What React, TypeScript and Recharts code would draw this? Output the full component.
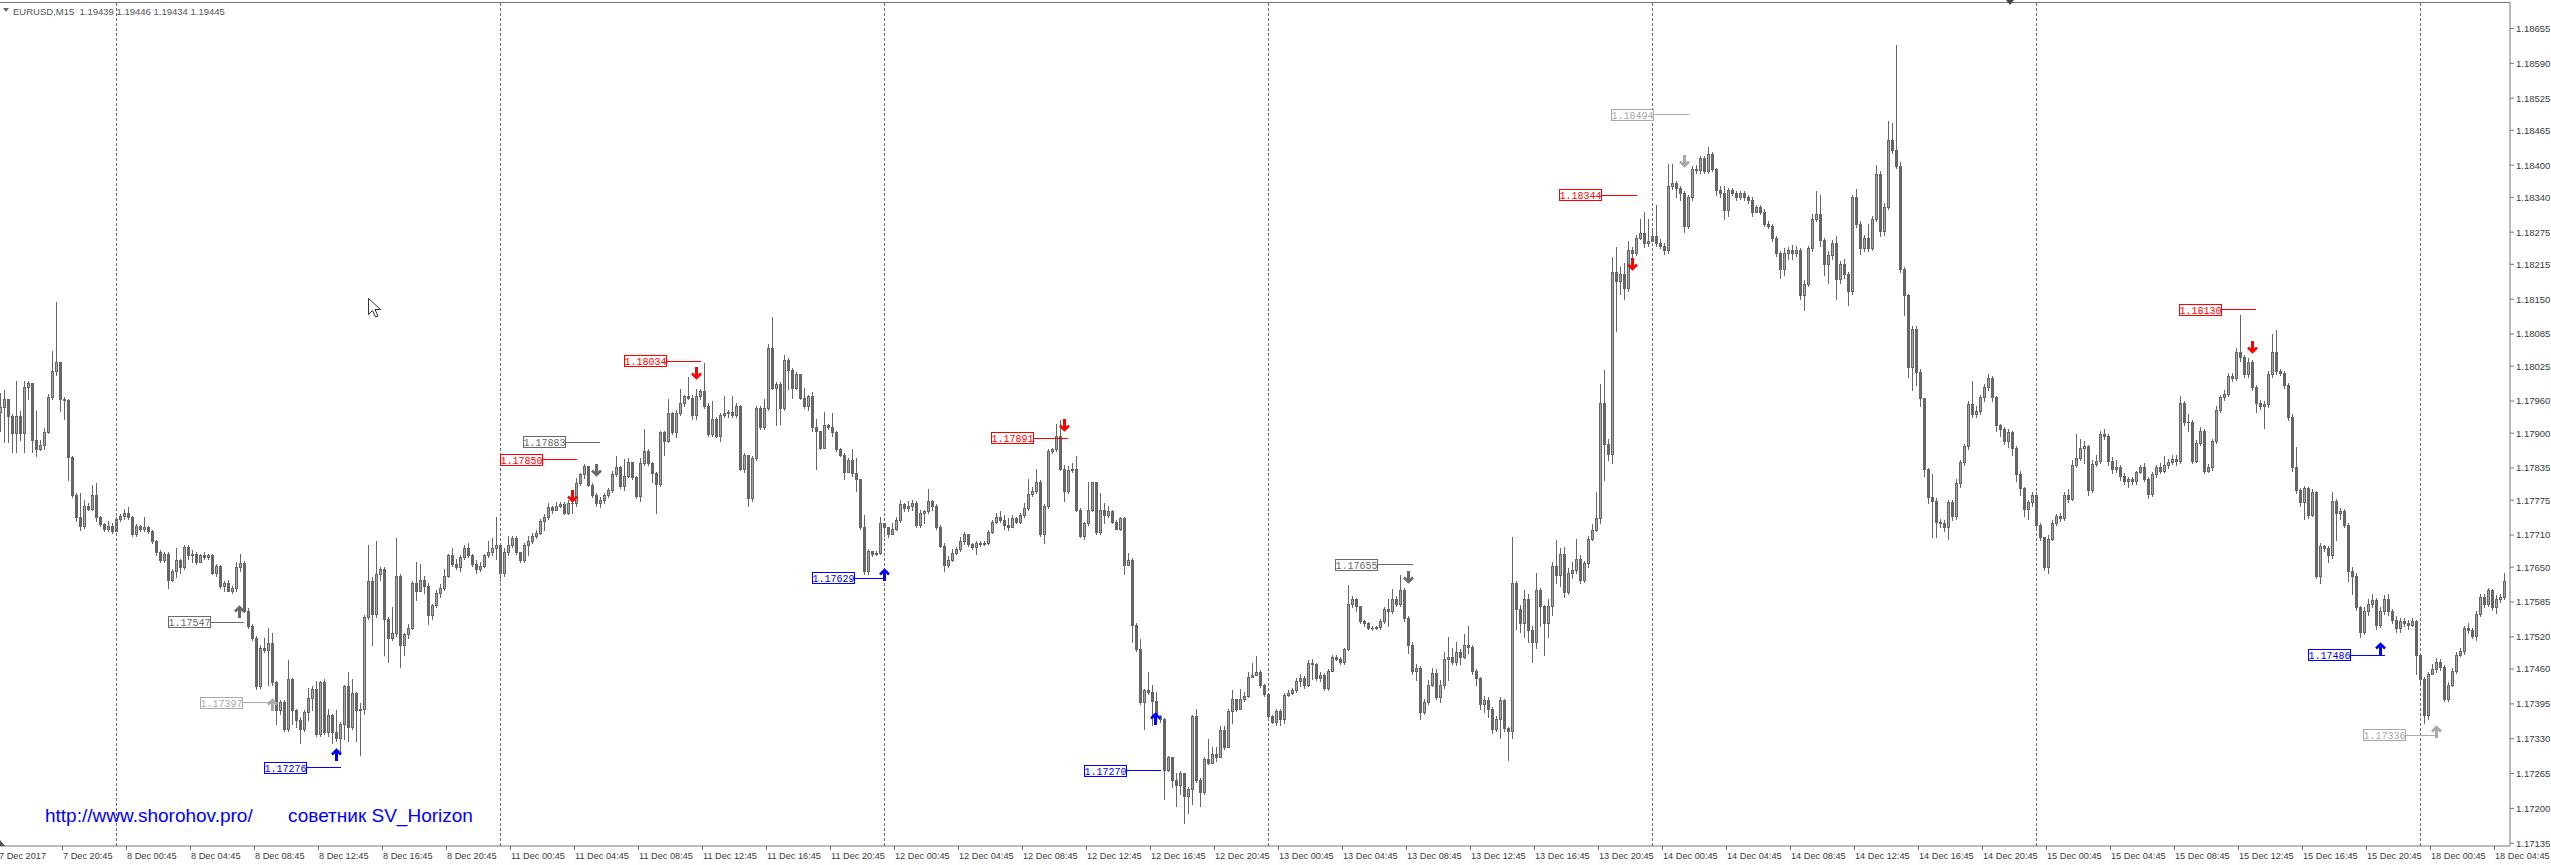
import React from "react";
import { ComposedChart, Bar, XAxis, YAxis, ReferenceLine, ReferenceDot } from "recharts";

// EURUSD M15, 7 Dec 2017 16:45 .. 18 Dec 2017 05:15.
// Open of each bar = close of the bar before it.
const FIRST_OPEN = 1.1794;

const D07_C = [1.17948,1.17964,1.17932,1.17900,1.17932,1.17900,1.17987,1.17993,1.17887,1.17871,1.17878,1.17903,1.17968,1.18016,1.18032,1.17964,1.17961,1.17855,1.17785,1.17743,1.17727,1.17765,1.17759,1.17785,1.17743,1.17730,1.17722,1.17727,1.17717];
const D07_H = [1.17975,1.17981,1.17961,1.17936,1.17997,1.17942,1.17997,1.17997,1.17993,1.17942,1.17887,1.17910,1.17974,1.18054,1.18144,1.18025,1.17968,1.17964,1.17858,1.17788,1.17788,1.17775,1.17769,1.17804,1.17807,1.17746,1.17733,1.17736,1.17733];
const D07_L = [1.17905,1.17884,1.17884,1.17865,1.17865,1.17887,1.17865,1.17964,1.17865,1.17858,1.17868,1.17871,1.17900,1.17964,1.18009,1.17942,1.17926,1.17813,1.17781,1.17736,1.17720,1.17724,1.17756,1.17757,1.17736,1.17727,1.17718,1.17717,1.17714];

const D08_C = [1.17740,1.17746,1.17752,1.17743,1.17711,1.17727,1.17722,1.17725,1.17718,1.17698,1.17679,1.17663,1.17675,1.17627,1.17643,1.17663,1.17650,1.17688,1.17672,1.17675,1.17659,1.17672,1.17669,1.17672,1.17640,1.17653,1.17614,1.17621,1.17606,1.17611,1.17650,1.17658,1.17569,1.17541,1.17518,1.17428,1.17499,1.17496,1.17509,1.17435,1.17383,1.17399,1.17348,1.17441,1.17383,1.17364,1.17348,1.17380,1.17406,1.17422,1.17338,1.17435,1.17342,1.17374,1.17342,1.17332,1.17358,1.17428,1.17351,1.17415,1.17383,1.17386,1.17557,1.17624,1.17563,1.17637,1.17647,1.17553,1.17518,1.17528,1.17634,1.17505,1.17525,1.17537,1.17621,1.17606,1.17627,1.17614,1.17560,1.17579,1.17602,1.17611,1.17634,1.17672,1.17656,1.17650,1.17669,1.17685,1.17672,1.17656,1.17647,1.17653,1.17672,1.17679,1.17685,1.17692];
const D08_H = [1.17743,1.17749,1.17759,1.17762,1.17746,1.17730,1.17729,1.17743,1.17727,1.17720,1.17701,1.17682,1.17679,1.17679,1.17647,1.17685,1.17666,1.17692,1.17692,1.17682,1.17679,1.17675,1.17679,1.17675,1.17674,1.17656,1.17654,1.17624,1.17627,1.17614,1.17659,1.17675,1.17661,1.17573,1.17544,1.17521,1.17505,1.17518,1.17537,1.17528,1.17438,1.17403,1.17403,1.17476,1.17444,1.17386,1.17370,1.17383,1.17425,1.17428,1.17438,1.17438,1.17441,1.17386,1.17377,1.17383,1.17361,1.17431,1.17454,1.17441,1.17418,1.17396,1.17560,1.17692,1.17631,1.17698,1.17650,1.17650,1.17557,1.17576,1.17704,1.17637,1.17528,1.17544,1.17624,1.17659,1.17656,1.17634,1.17621,1.17582,1.17608,1.17618,1.17647,1.17675,1.17685,1.17666,1.17672,1.17692,1.17695,1.17675,1.17663,1.17659,1.17675,1.17698,1.17704,1.17743];
const D08_L = [1.17720,1.17736,1.17740,1.17740,1.17708,1.17708,1.17718,1.17718,1.17714,1.17695,1.17672,1.17659,1.17659,1.17611,1.17624,1.17631,1.17640,1.17647,1.17666,1.17659,1.17656,1.17663,1.17666,1.17665,1.17637,1.17634,1.17611,1.17606,1.17605,1.17602,1.17605,1.17643,1.17566,1.17537,1.17515,1.17422,1.17425,1.17492,1.17431,1.17431,1.17358,1.17377,1.17345,1.17345,1.17358,1.17351,1.17322,1.17345,1.17364,1.17383,1.17335,1.17335,1.17338,1.17335,1.17322,1.17325,1.17306,1.17329,1.17325,1.17348,1.17325,1.17300,1.17377,1.17553,1.17505,1.17557,1.17627,1.17486,1.17473,1.17515,1.17521,1.17464,1.17486,1.17518,1.17534,1.17589,1.17605,1.17602,1.17544,1.17553,1.17576,1.17595,1.17608,1.17631,1.17653,1.17647,1.17643,1.17666,1.17669,1.17653,1.17640,1.17643,1.17650,1.17669,1.17672,1.17666];

const D11_C = [1.17640,1.17679,1.17692,1.17704,1.17679,1.17663,1.17692,1.17698,1.17708,1.17714,1.17736,1.17743,1.17762,1.17757,1.17765,1.17767,1.17752,1.17769,1.17769,1.17807,1.17823,1.17839,1.17804,1.17785,1.17769,1.17775,1.17785,1.17794,1.17823,1.17836,1.17801,1.17820,1.17847,1.17818,1.17783,1.17844,1.17866,1.17844,1.17825,1.17805,1.17902,1.17886,1.17937,1.17902,1.17937,1.17956,1.17969,1.17966,1.17934,1.17969,1.17979,1.17950,1.17899,1.17927,1.17895,1.17934,1.17937,1.17940,1.17934,1.17950,1.17834,1.17860,1.17780,1.17854,1.17947,1.17911,1.17947,1.18059,1.17985,1.17992,1.17947,1.18037,1.18017,1.17985,1.18011,1.17966,1.17950,1.17969,1.17911,1.17905,1.17873,1.17915,1.17911,1.17902,1.17870,1.17860,1.17828,1.17850,1.17825,1.17815,1.17725,1.17642,1.17680,1.17674,1.17677,1.17732];
const D11_H = [1.17692,1.17685,1.17708,1.17708,1.17708,1.17679,1.17695,1.17708,1.17714,1.17720,1.17740,1.17749,1.17769,1.17765,1.17772,1.17772,1.17772,1.17775,1.17772,1.17817,1.17826,1.17842,1.17836,1.17807,1.17788,1.17781,1.17788,1.17797,1.17830,1.17858,1.17839,1.17852,1.17854,1.17841,1.17821,1.17854,1.17908,1.17870,1.17847,1.17828,1.17905,1.17905,1.17963,1.17940,1.17944,1.17982,1.17972,1.18005,1.17972,1.17982,1.17982,1.18030,1.17956,1.17960,1.17931,1.17937,1.17969,1.17944,1.17969,1.17956,1.17953,1.17863,1.17860,1.17857,1.17950,1.17950,1.17963,1.18066,1.18117,1.17995,1.17995,1.18046,1.18040,1.18021,1.18014,1.18011,1.17985,1.17972,1.17976,1.17927,1.17902,1.17940,1.17918,1.17937,1.17905,1.17873,1.17863,1.17854,1.17870,1.17854,1.17815,1.17748,1.17683,1.17680,1.17680,1.17744];
const D11_L = [1.17624,1.17634,1.17672,1.17688,1.17675,1.17659,1.17659,1.17672,1.17695,1.17704,1.17711,1.17720,1.17740,1.17752,1.17757,1.17762,1.17749,1.17749,1.17751,1.17765,1.17804,1.17817,1.17801,1.17781,1.17765,1.17762,1.17769,1.17781,1.17791,1.17820,1.17797,1.17794,1.17818,1.17815,1.17780,1.17773,1.17841,1.17841,1.17809,1.17751,1.17802,1.17860,1.17883,1.17899,1.17892,1.17934,1.17950,1.17963,1.17927,1.17927,1.17963,1.17947,1.17895,1.17895,1.17892,1.17886,1.17931,1.17931,1.17931,1.17931,1.17831,1.17828,1.17764,1.17773,1.17850,1.17908,1.17908,1.17944,1.17982,1.17915,1.17918,1.17944,1.17982,1.17966,1.17982,1.17963,1.17947,1.17944,1.17905,1.17834,1.17870,1.17895,1.17908,1.17895,1.17866,1.17857,1.17815,1.17844,1.17821,1.17793,1.17722,1.17638,1.17638,1.17671,1.17672,1.17674];

const D12_C = [1.17725,1.17712,1.17722,1.17738,1.17767,1.17760,1.17764,1.17770,1.17728,1.17751,1.17754,1.17773,1.17764,1.17725,1.17690,1.17654,1.17664,1.17677,1.17683,1.17699,1.17712,1.17693,1.17687,1.17696,1.17693,1.17696,1.17715,1.17735,1.17744,1.17738,1.17728,1.17725,1.17741,1.17735,1.17748,1.17760,1.17786,1.17793,1.17809,1.17712,1.17764,1.17866,1.17870,1.17895,1.17834,1.17793,1.17831,1.17834,1.17757,1.17709,1.17732,1.17757,1.17809,1.17715,1.17757,1.17748,1.17754,1.17735,1.17722,1.17741,1.17654,1.17664,1.17542,1.17497,1.17398,1.17420,1.17417,1.17401,1.17372,1.17366,1.17272,1.17295,1.17253,1.17244,1.17266,1.17224,1.17237,1.17372,1.17253,1.17231,1.17292,1.17285,1.17301,1.17295,1.17346,1.17314,1.17382,1.17404,1.17385,1.17404,1.17410,1.17446,1.17449,1.17455,1.17430,1.17414];
const D12_H = [1.17732,1.17725,1.17732,1.17744,1.17776,1.17770,1.17773,1.17776,1.17773,1.17757,1.17757,1.17796,1.17776,1.17767,1.17728,1.17696,1.17671,1.17683,1.17687,1.17706,1.17715,1.17712,1.17696,1.17699,1.17699,1.17699,1.17719,1.17738,1.17751,1.17754,1.17748,1.17741,1.17748,1.17744,1.17751,1.17770,1.17815,1.17799,1.17834,1.17812,1.17767,1.17870,1.17873,1.17918,1.17924,1.17841,1.17838,1.17844,1.17857,1.17760,1.17735,1.17809,1.17809,1.17809,1.17789,1.17770,1.17764,1.17757,1.17738,1.17744,1.17744,1.17677,1.17667,1.17545,1.17516,1.17423,1.17455,1.17430,1.17417,1.17375,1.17369,1.17298,1.17279,1.17266,1.17269,1.17263,1.17240,1.17375,1.17385,1.17256,1.17295,1.17330,1.17314,1.17314,1.17353,1.17353,1.17385,1.17420,1.17404,1.17423,1.17417,1.17455,1.17471,1.17484,1.17459,1.17433];
const D12_L = [1.17709,1.17706,1.17712,1.17719,1.17735,1.17754,1.17754,1.17757,1.17725,1.17725,1.17732,1.17751,1.17757,1.17722,1.17687,1.17642,1.17651,1.17661,1.17674,1.17680,1.17693,1.17690,1.17683,1.17674,1.17690,1.17692,1.17694,1.17714,1.17733,1.17735,1.17722,1.17719,1.17725,1.17732,1.17732,1.17744,1.17757,1.17783,1.17789,1.17709,1.17696,1.17760,1.17863,1.17866,1.17831,1.17773,1.17789,1.17828,1.17754,1.17706,1.17703,1.17728,1.17754,1.17712,1.17712,1.17732,1.17744,1.17732,1.17732,1.17720,1.17638,1.17658,1.17510,1.17494,1.17395,1.17349,1.17414,1.17356,1.17369,1.17362,1.17218,1.17269,1.17240,1.17205,1.17227,1.17173,1.17192,1.17208,1.17250,1.17205,1.17227,1.17282,1.17285,1.17288,1.17295,1.17311,1.17314,1.17359,1.17382,1.17401,1.17401,1.17407,1.17446,1.17449,1.17427,1.17410];

const D13_C = [1.17372,1.17362,1.17382,1.17367,1.17412,1.17416,1.17421,1.17438,1.17443,1.17430,1.17472,1.17470,1.17443,1.17449,1.17425,1.17456,1.17483,1.17479,1.17474,1.17497,1.17581,1.17590,1.17577,1.17550,1.17546,1.17537,1.17537,1.17538,1.17550,1.17572,1.17568,1.17590,1.17581,1.17608,1.17555,1.17505,1.17456,1.17461,1.17380,1.17398,1.17430,1.17452,1.17407,1.17430,1.17479,1.17483,1.17474,1.17492,1.17483,1.17505,1.17501,1.17456,1.17443,1.17394,1.17403,1.17385,1.17349,1.17367,1.17403,1.17350,1.17345,1.17621,1.17572,1.17546,1.17590,1.17532,1.17510,1.17608,1.17577,1.17546,1.17577,1.17653,1.17635,1.17675,1.17604,1.17639,1.17644,1.17666,1.17626,1.17657,1.17702,1.17720,1.17742,1.17956,1.17880,1.17862,1.18201,1.18184,1.18197,1.18170,1.18242,1.18237,1.18264,1.18273,1.18255,1.18259];
const D13_H = [1.17410,1.17375,1.17385,1.17385,1.17416,1.17420,1.17425,1.17443,1.17450,1.17447,1.17476,1.17478,1.17472,1.17455,1.17452,1.17460,1.17487,1.17487,1.17482,1.17500,1.17617,1.17596,1.17592,1.17578,1.17552,1.17548,1.17541,1.17541,1.17553,1.17575,1.17590,1.17610,1.17596,1.17635,1.17612,1.17558,1.17510,1.17470,1.17465,1.17405,1.17440,1.17462,1.17460,1.17440,1.17492,1.17520,1.17500,1.17510,1.17498,1.17526,1.17541,1.17505,1.17460,1.17446,1.17410,1.17408,1.17390,1.17372,1.17408,1.17405,1.17352,1.17706,1.17625,1.17580,1.17607,1.17600,1.17540,1.17640,1.17612,1.17580,1.17590,1.17660,1.17700,1.17685,1.17688,1.17648,1.17660,1.17702,1.17672,1.17662,1.17708,1.17730,1.17790,1.17992,1.18018,1.17890,1.18228,1.18248,1.18210,1.18218,1.18259,1.18248,1.18270,1.18300,1.18313,1.18300];
const D13_L = [1.17369,1.17359,1.17355,1.17355,1.17360,1.17410,1.17414,1.17418,1.17428,1.17425,1.17428,1.17441,1.17440,1.17437,1.17420,1.17421,1.17456,1.17476,1.17470,1.17470,1.17495,1.17575,1.17568,1.17546,1.17540,1.17534,1.17533,1.17534,1.17535,1.17546,1.17541,1.17565,1.17578,1.17578,1.17550,1.17490,1.17450,1.17440,1.17366,1.17376,1.17394,1.17428,1.17404,1.17398,1.17425,1.17440,1.17470,1.17468,1.17470,1.17480,1.17490,1.17450,1.17430,1.17385,1.17380,1.17370,1.17340,1.17345,1.17331,1.17345,1.17291,1.17332,1.17535,1.17530,1.17520,1.17510,1.17474,1.17500,1.17540,1.17487,1.17520,1.17560,1.17620,1.17615,1.17595,1.17600,1.17630,1.17640,1.17620,1.17622,1.17650,1.17700,1.17718,1.17733,1.17813,1.17850,1.17845,1.18090,1.18160,1.18150,1.18165,1.18225,1.18232,1.18262,1.18248,1.18250];

const D14_C = [1.18268,1.18255,1.18250,1.18242,1.18362,1.18366,1.18358,1.18349,1.18286,1.18340,1.18393,1.18391,1.18413,1.18389,1.18420,1.18393,1.18353,1.18349,1.18317,1.18353,1.18349,1.18340,1.18349,1.18340,1.18335,1.18313,1.18322,1.18313,1.18291,1.18286,1.18264,1.18237,1.18206,1.18237,1.18242,1.18237,1.18242,1.18157,1.18179,1.18246,1.18300,1.18308,1.18260,1.18215,1.18233,1.18255,1.18188,1.18215,1.18197,1.18166,1.18340,1.18291,1.18246,1.18264,1.18246,1.18300,1.18384,1.18277,1.18322,1.18447,1.18429,1.18398,1.18206,1.18157,1.18023,1.18094,1.18014,1.17965,1.17833,1.17781,1.17774,1.17735,1.17732,1.17725,1.17771,1.17745,1.17807,1.17846,1.17876,1.17954,1.17935,1.17941,1.17967,1.17987,1.18003,1.17967,1.17915,1.17908,1.17886,1.17902,1.17872,1.17823,1.17797,1.17758,1.17771,1.17784];
const D14_H = [1.18280,1.18326,1.18262,1.18255,1.18402,1.18402,1.18370,1.18362,1.18352,1.18345,1.18398,1.18400,1.18418,1.18418,1.18433,1.18425,1.18395,1.18362,1.18362,1.18358,1.18358,1.18352,1.18352,1.18352,1.18345,1.18340,1.18326,1.18325,1.18318,1.18295,1.18290,1.18268,1.18240,1.18245,1.18248,1.18252,1.18250,1.18245,1.18185,1.18250,1.18308,1.18352,1.18345,1.18265,1.18240,1.18260,1.18268,1.18222,1.18225,1.18200,1.18345,1.18355,1.18296,1.18270,1.18290,1.18305,1.18400,1.18390,1.18330,1.18482,1.18478,1.18625,1.18405,1.18210,1.18160,1.18100,1.18100,1.18020,1.17965,1.17835,1.17823,1.17780,1.17740,1.17738,1.17775,1.17775,1.17815,1.17850,1.17880,1.17960,1.17997,1.17950,1.17972,1.17992,1.18010,1.18006,1.17970,1.17918,1.17912,1.17908,1.17905,1.17876,1.17830,1.17800,1.17775,1.17790];
const D14_L = [1.18259,1.18250,1.18245,1.18235,1.18237,1.18355,1.18340,1.18335,1.18275,1.18283,1.18335,1.18385,1.18386,1.18385,1.18385,1.18390,1.18345,1.18340,1.18300,1.18305,1.18345,1.18335,1.18336,1.18335,1.18330,1.18305,1.18312,1.18308,1.18286,1.18282,1.18258,1.18230,1.18190,1.18195,1.18225,1.18225,1.18230,1.18150,1.18130,1.18175,1.18240,1.18295,1.18250,1.18195,1.18180,1.18225,1.18150,1.18180,1.18190,1.18140,1.18160,1.18285,1.18235,1.18240,1.18240,1.18242,1.18295,1.18268,1.18270,1.18318,1.18422,1.18395,1.18200,1.18120,1.18005,1.17980,1.17990,1.17950,1.17820,1.17770,1.17706,1.17706,1.17725,1.17718,1.17702,1.17738,1.17740,1.17800,1.17840,1.17870,1.17930,1.17930,1.17935,1.17960,1.17980,1.17960,1.17905,1.17895,1.17880,1.17875,1.17860,1.17810,1.17785,1.17745,1.17740,1.17765];

const D15_C = [1.17729,1.17706,1.17650,1.17702,1.17732,1.17745,1.17742,1.17784,1.17778,1.17840,1.17853,1.17872,1.17876,1.17794,1.17843,1.17849,1.17899,1.17895,1.17849,1.17833,1.17836,1.17820,1.17810,1.17814,1.17810,1.17827,1.17836,1.17814,1.17787,1.17823,1.17836,1.17830,1.17840,1.17846,1.17852,1.17849,1.17957,1.17921,1.17921,1.17849,1.17882,1.17905,1.17830,1.17836,1.17886,1.17944,1.17967,1.17974,1.18007,1.18003,1.18052,1.18042,1.18010,1.18033,1.17987,1.17957,1.17951,1.17954,1.18010,1.18052,1.18016,1.18013,1.17990,1.17931,1.17836,1.17794,1.17771,1.17797,1.17748,1.17791,1.17634,1.17689,1.17686,1.17673,1.17774,1.17751,1.17755,1.17729,1.17643,1.17634,1.17575,1.17529,1.17568,1.17581,1.17588,1.17542,1.17568,1.17591,1.17568,1.17552,1.17536,1.17549,1.17546,1.17542,1.17549,1.17487];
const D15_H = [1.17791,1.17732,1.17706,1.17710,1.17738,1.17750,1.17752,1.17790,1.17795,1.17850,1.17899,1.17890,1.17885,1.17878,1.17850,1.17860,1.17905,1.17908,1.17898,1.17855,1.17850,1.17840,1.17825,1.17818,1.17818,1.17830,1.17840,1.17845,1.17818,1.17828,1.17840,1.17845,1.17858,1.17852,1.17860,1.17860,1.17970,1.17960,1.17935,1.17925,1.17888,1.17912,1.17908,1.17842,1.17890,1.17950,1.17972,1.17980,1.18012,1.18012,1.18058,1.18121,1.18046,1.18040,1.18036,1.17990,1.17962,1.17960,1.18016,1.18085,1.18092,1.18020,1.18016,1.17993,1.17935,1.17875,1.17797,1.17802,1.17800,1.17795,1.17793,1.17695,1.17692,1.17690,1.17790,1.17778,1.17760,1.17758,1.17732,1.17650,1.17640,1.17578,1.17575,1.17590,1.17600,1.17592,1.17575,1.17598,1.17600,1.17572,1.17558,1.17555,1.17555,1.17552,1.17555,1.17552];
const D15_L = [1.17719,1.17700,1.17645,1.17640,1.17700,1.17728,1.17736,1.17738,1.17772,1.17775,1.17836,1.17850,1.17845,1.17785,1.17790,1.17838,1.17845,1.17890,1.17840,1.17825,1.17828,1.17812,1.17805,1.17800,1.17805,1.17805,1.17825,1.17810,1.17780,1.17782,1.17818,1.17825,1.17827,1.17835,1.17842,1.17840,1.17845,1.17915,1.17905,1.17845,1.17846,1.17878,1.17825,1.17828,1.17832,1.17882,1.17940,1.17962,1.17970,1.17998,1.18000,1.18035,1.18005,1.18005,1.17980,1.17940,1.17945,1.17910,1.17948,1.18005,1.18010,1.18008,1.17985,1.17925,1.17830,1.17788,1.17765,1.17740,1.17742,1.17745,1.17630,1.17620,1.17680,1.17660,1.17668,1.17700,1.17740,1.17725,1.17625,1.17600,1.17570,1.17520,1.17525,1.17560,1.17575,1.17535,1.17538,1.17562,1.17560,1.17545,1.17530,1.17530,1.17540,1.17535,1.17540,1.17450];

const D18_C = [1.17441,1.17375,1.17450,1.17460,1.17473,1.17464,1.17405,1.17431,1.17457,1.17487,1.17493,1.17536,1.17532,1.17522,1.17562,1.17594,1.17581,1.17608,1.17575,1.17591,1.17594,1.17624];
const D18_H = [1.17490,1.17445,1.17455,1.17470,1.17480,1.17478,1.17468,1.17435,1.17462,1.17492,1.17500,1.17540,1.17545,1.17536,1.17568,1.17600,1.17600,1.17612,1.17610,1.17598,1.17600,1.17640];
const D18_L = [1.17430,1.17360,1.17366,1.17450,1.17455,1.17458,1.17400,1.17400,1.17428,1.17452,1.17485,1.17488,1.17528,1.17518,1.17515,1.17558,1.17575,1.17578,1.17570,1.17565,1.17585,1.17590];

// bar index of the first bar of each new day (period separators)
const DAY_STARTS = [29, 125, 221, 317, 413, 509, 605];

// time axis: one label every 16 bars (4 hours)
const TIME_LABELS = [
  "7 Dec 2017", "7 Dec 20:45",
  "8 Dec 00:45", "8 Dec 04:45", "8 Dec 08:45", "8 Dec 12:45", "8 Dec 16:45", "8 Dec 20:45",
  "11 Dec 00:45", "11 Dec 04:45", "11 Dec 08:45", "11 Dec 12:45", "11 Dec 16:45", "11 Dec 20:45",
  "12 Dec 00:45", "12 Dec 04:45", "12 Dec 08:45", "12 Dec 12:45", "12 Dec 16:45", "12 Dec 20:45",
  "13 Dec 00:45", "13 Dec 04:45", "13 Dec 08:45", "13 Dec 12:45", "13 Dec 16:45", "13 Dec 20:45",
  "14 Dec 00:45", "14 Dec 04:45", "14 Dec 08:45", "14 Dec 12:45", "14 Dec 16:45", "14 Dec 20:45",
  "15 Dec 00:45", "15 Dec 04:45", "15 Dec 08:45", "15 Dec 12:45", "15 Dec 16:45", "15 Dec 20:45",
  "18 Dec 00:45", "18 Dec 04:45",
];

const PRICE_TICKS = [1.18655, 1.1859, 1.18525, 1.18465, 1.184, 1.1834, 1.18275, 1.18215, 1.1815, 1.18085, 1.18025, 1.1796, 1.179, 1.17835, 1.17775, 1.1771, 1.1765, 1.17585, 1.1752, 1.1746, 1.17395, 1.1733, 1.17265, 1.172, 1.17135];

// SV_Horizon levels: price, bar where the box ends / line starts, bar where the line ends
const LEVEL_PRICE = [1.17547, 1.17397, 1.17276, 1.1785, 1.17883, 1.18034, 1.17629, 1.17891, 1.1727, 1.17655, 1.18344, 1.18494, 1.1813, 1.17486, 1.17336];
const LEVEL_FROM = [52.75, 60.75, 76.75, 135.75, 141.6, 166.65, 213.75, 258.6, 281.65, 344.6, 400.5, 413.4, 555.45, 587.65, 601.5];
const LEVEL_TO = [61, 67.5, 85.2, 144.25, 150, 175.25, 220.75, 267.1, 290.25, 353.15, 409.25, 422.25, 564.1, 596.2, 609.1];
const LEVEL_KIND = ["gray", "light", "blue", "red", "gray", "red", "blue", "red", "blue", "gray", "red", "light", "red", "blue", "light"];
const ARROW_AT = [59.75, 67.9, 84, 143, 149, 174, 221, 266, 288.75, 352, 408, 421.1, 563, 595, 608.9];
const ARROW_PRICE = [1.17566, 1.17393, 1.17299, 1.17782, 1.17831, 1.18013, 1.17635, 1.17916, 1.17367, 1.17632, 1.18215, 1.18408, 1.18061, 1.17498, 1.17343];
const ARROW_UP = [true, true, true, false, false, false, true, false, true, false, false, false, false, true, true];

const KIND_COLOR: Record<string, string> = { red: "#ff0000", blue: "#0000ff", gray: "#696969", light: "#a9a9a9" };

const CANDLE_DARK = "#666666";
const CANDLE_LIGHT = "#a6a6a6";
const FRAME = "#777777";
const AXIS_TEXT = "#3a3a3a";
const SANS = "'Liberation Sans', Arial, sans-serif";

const CLOSE = [...D07_C, ...D08_C, ...D11_C, ...D12_C, ...D13_C, ...D14_C, ...D15_C, ...D18_C];
const HIGH = [...D07_H, ...D08_H, ...D11_H, ...D12_H, ...D13_H, ...D14_H, ...D15_H, ...D18_H];
const LOW = [...D07_L, ...D08_L, ...D11_L, ...D12_L, ...D13_L, ...D14_L, ...D15_L, ...D18_L];

const DATA: any[] = CLOSE.map((c, i) => {
  const o = i === 0 ? FIRST_OPEN : CLOSE[i - 1];
  return { i, o, c, range: [Math.min(LOW[i], o, c), Math.max(HIGH[i], o, c)] };
});
DATA.push({ i: CLOSE.length, o: null, c: null, range: null }); // empty slot before the price scale

const Y_MIN = 1.1712984;
const Y_MAX = 1.1870442;

function Candle(props: any) {
  const { x, y, width, height, payload } = props;
  if (!payload || payload.c == null || payload.range == null) return <g />;
  const [lo, hi] = payload.range;
  const top = Math.min(y, y + height);
  const bot = Math.max(y, y + height);
  const span = hi - lo;
  const py = (p: number) => Math.round(span > 0 ? top + ((hi - p) / span) * (bot - top) : top);
  const cx = Math.round(x + width / 2);
  const wt = py(hi);
  const wb = py(lo);
  const bt = py(Math.max(payload.o, payload.c));
  const bb = py(Math.min(payload.o, payload.c));
  const bull = payload.c > payload.o;
  return (
    <g shapeRendering="crispEdges">
      <rect x={cx} y={wt} width={1} height={Math.max(1, wb - wt + 1)} fill={CANDLE_DARK} />
      <rect x={cx - 1} y={bt} width={3} height={Math.max(1, bb - bt + 1)} fill={CANDLE_DARK} />
      {bull && bb - bt - 1 > 0 && <rect x={cx} y={bt + 1} width={1} height={bb - bt - 1} fill={CANDLE_LIGHT} />}
    </g>
  );
}

function TimeTick(props: any) {
  const { x, y, payload } = props;
  const v = Number(payload.value);
  if (v % 16 !== 0) return <g />;
  const label = TIME_LABELS[v / 16];
  if (!label) return <g />;
  const tx = Math.round(x) - 2;
  return (
    <g>
      <line x1={tx + 0.5} x2={tx + 0.5} y1={y} y2={y + 4} stroke={FRAME} />
      <text x={tx + 1} y={y + 13} fontSize={9.2} fontFamily={SANS} fill={AXIS_TEXT}>{label}</text>
    </g>
  );
}

const levelBox = (color: string, text: string) => (props: any) => {
  const cx = Math.round(props.cx);
  const cy = Math.round(props.cy);
  return (
    <g>
      <rect x={cx - 43 + 0.5} y={cy - 6 + 0.5} width={42} height={11} fill="#ffffff" stroke={color} />
      <text x={cx - 21.5} y={cy} dy="0.36em" textAnchor="middle" fontSize={10} fontFamily="'Liberation Mono', monospace" fill={color}>{text}</text>
    </g>
  );
};

const arrowMark = (color: string, up: boolean) => (props: any) => {
  const cx = Math.round(props.cx) + 0.5;
  const cy = Math.round(props.cy);
  const s = up ? 1 : -1;
  const head = `M${cx - 4.5},${cy - s * 0.5} L${cx},${cy - s * 5} L${cx + 4.5},${cy - s * 0.5}`;
  return (
    <g>
      <path d={head} fill="none" stroke={color} strokeWidth={2.6} />
      <rect x={cx - 1.5} y={up ? cy - 4 : cy - 6} width={3} height={10} fill={color} />
    </g>
  );
};

export default function App() {
  return (
    <div style={{ position: "absolute", left: 0, top: 0, width: 2551, height: 865, overflow: "hidden", background: "#ffffff" }}>
      <div style={{ position: "absolute", left: -2, top: 0 }}>
        <ComposedChart width={2553} height={865} data={DATA} margin={{ top: 2, right: 0, bottom: 0, left: 0 }} barCategoryGap={0} barGap={0}>
          <XAxis
            dataKey="i"
            type="category"
            height={19}
            interval={15}
            tickSize={0}
            tickMargin={0}
            tickLine={false}
            axisLine={{ stroke: FRAME }}
            tick={<TimeTick />}
          />
          <XAxis xAxisId="num" type="number" dataKey="i" domain={[-0.5, 627.5]} allowDataOverflow hide />
          <YAxis
            orientation="right"
            width={41}
            domain={[Y_MIN, Y_MAX]}
            allowDataOverflow
            ticks={PRICE_TICKS}
            interval={0}
            tickSize={4}
            tickMargin={2}
            tickLine={{ stroke: FRAME }}
            axisLine={{ stroke: FRAME }}
            tickFormatter={(v: number) => v.toFixed(5)}
            tick={{ fontSize: 9.5, fontFamily: SANS, fill: AXIS_TEXT }}
          />
          <ReferenceLine y={Y_MAX} stroke={FRAME} shapeRendering="crispEdges" />
          {DAY_STARTS.map((d) => (
            <ReferenceLine key={"sep" + d} xAxisId="num" x={d} stroke="#6a6a6a" strokeDasharray="3 2" shapeRendering="crispEdges" />
          ))}
          <Bar dataKey="range" shape={<Candle />} isAnimationActive={false} />
          {LEVEL_PRICE.map((p, k) => (
            <ReferenceLine
              key={"lvl" + k}
              xAxisId="num"
              segment={[{ x: LEVEL_FROM[k], y: p }, { x: LEVEL_TO[k], y: p }]}
              stroke={KIND_COLOR[LEVEL_KIND[k]]}
              shapeRendering="crispEdges"
            />
          ))}
          {LEVEL_PRICE.map((p, k) => (
            <ReferenceDot
              key={"box" + k}
              xAxisId="num"
              x={LEVEL_FROM[k]}
              y={p}
              r={1}
              shape={levelBox(KIND_COLOR[LEVEL_KIND[k]], p.toFixed(5))}
            />
          ))}
          {ARROW_AT.map((a, k) => (
            <ReferenceDot
              key={"arr" + k}
              xAxisId="num"
              x={a}
              y={ARROW_PRICE[k]}
              r={1}
              shape={arrowMark(KIND_COLOR[LEVEL_KIND[k]], ARROW_UP[k])}
            />
          ))}
        </ComposedChart>
      </div>
      <svg width={2551} height={865} style={{ position: "absolute", left: 0, top: 0, pointerEvents: "none" }}>
        <polygon points="3,8 9,8 6,12" fill="#666666" />
        <text x={13} y={14.5} fontSize={9.5} fontFamily={SANS} fill="#555555" style={{ whiteSpace: "pre" }}>
          {"EURUSD,M15  1.19439 1.19446 1.19434 1.19445"}
        </text>
        <polygon points="2006,0 2014,0 2010,5" fill="#444444" />
        <polygon points="0,840 0,846 5,846" fill="#555555" />
        <path d="M368.5,298.5 l0,16 l4,-4 l3,6.5 l2.5,-1 l-3,-6.5 l5.5,0 z" fill="#ffffff" stroke="#333333" />
        <text x={45} y={822} fontSize={19} fontFamily={SANS} fill="#0000ff">http://www.shorohov.pro/</text>
        <text x={288} y={822} fontSize={19} fontFamily={SANS} fill="#0000ff">советник SV_Horizon</text>
      </svg>
    </div>
  );
}
